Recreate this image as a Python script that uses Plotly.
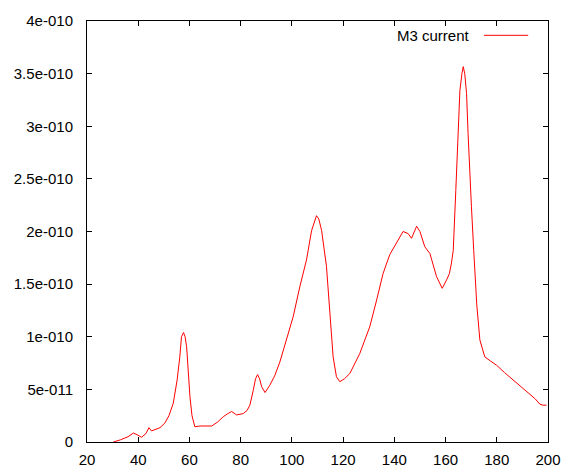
import plotly.graph_objects as go

# Data (x: arbitrary units, y: current in units of 1e-10 A)
x_vals = [30.3, 33, 36, 38.1, 39.5, 41.3, 43, 44.2, 45.2, 47, 48.5, 50.4, 52, 53.7, 55.2, 56.2, 56.9,
          57.7, 58.3, 58.9, 59.6, 60.2, 61, 62.1, 64.1, 66, 68.7, 71, 73.2, 75, 76.5, 78.4, 81,
          82.5, 83.6, 84.9, 85.8, 86.6, 87.4, 88.2, 89.5, 91.4, 93.3, 95.3, 97.9, 100.5, 103.1,
          105.7, 107.7, 108.8, 109.6, 110.5, 111.6, 113.5, 114.8, 116.1, 117.4, 118.7, 120.5,
          122.6, 126.5, 130.4, 133.1, 135.6, 138.2, 140.9, 143.4, 145.4, 146.7, 148.7, 150,
          151.9, 153.9, 156.5, 158.1, 158.7, 160.4, 161.5, 162.3, 163, 164, 164.9, 165.6, 166.4,
          166.9, 167.5, 168.2, 168.8, 169.5, 170.1, 171, 172.2, 173.4, 175.3, 177.5, 179.9,
          183, 186.4, 189.5, 192.9, 195, 196.8, 198, 199.4]
y_vals = [0.0, 0.02, 0.05, 0.085, 0.07, 0.045, 0.08, 0.136, 0.105, 0.125, 0.136, 0.18, 0.25, 0.37,
          0.59, 0.8, 1.0, 1.04, 1.0, 0.905, 0.65, 0.43, 0.25, 0.145, 0.152, 0.15, 0.152, 0.19,
          0.24, 0.27, 0.29, 0.257, 0.27, 0.3, 0.35, 0.49, 0.6, 0.64, 0.6, 0.525, 0.47, 0.54,
          0.63, 0.76, 0.97, 1.19, 1.476, 1.73, 2.01, 2.1, 2.15, 2.12, 2.01, 1.67, 1.19, 0.81,
          0.62, 0.573, 0.6, 0.65, 0.84, 1.095, 1.35, 1.60, 1.78, 1.89, 2.0, 1.98, 1.935, 2.05,
          2.0, 1.855, 1.79, 1.57, 1.48, 1.46, 1.54, 1.6, 1.7, 1.82, 2.39, 2.9, 3.34, 3.5,
          3.566, 3.5, 3.31, 2.93, 2.52, 2.24, 1.82, 1.3, 0.97, 0.81, 0.77, 0.73, 0.66, 0.59,
          0.52, 0.447, 0.41, 0.36, 0.35, 0.35]
y_scaled = [v * 1e-10 for v in y_vals]

x_ticks = [20, 40, 60, 80, 100, 120, 140, 160, 180, 200]
y_tickvals = [0, 0.5e-10, 1e-10, 1.5e-10, 2e-10, 2.5e-10, 3e-10, 3.5e-10, 4e-10]
y_ticktext = ["0", "5e-011", "1e-010", "1.5e-010", "2e-010", "2.5e-010", "3e-010", "3.5e-010", "4e-010"]
series_name = "M3 current"

fig = go.Figure()
fig.add_trace(go.Scatter(x=x_vals, y=y_scaled, mode="lines", name=series_name,
                         line=dict(color="#ff0000", width=1), showlegend=False))

axis_common = dict(showline=True, linecolor="black", linewidth=1, mirror="ticks",
                   ticks="inside", ticklen=5, tickcolor="black", showgrid=False,
                   zeroline=False, automargin=False,
                   tickfont=dict(family="Liberation Sans, Arial", size=15, color="black"))

fig.update_xaxes(range=[20, 200], tickvals=x_ticks, ticklabelstandoff=4, **axis_common)
fig.update_yaxes(range=[0, 4e-10], tickvals=y_tickvals, ticktext=y_ticktext,
                 ticklabelstandoff=10, **axis_common)

# legend key in gnuplot style (text, then line sample)
fig.add_annotation(x=0.835, y=0.966, xref="paper", yref="paper", text=series_name,
                   showarrow=False, xanchor="right", yanchor="middle",
                   font=dict(family="Liberation Sans, Arial", size=15, color="black"))
fig.add_shape(type="line", xref="paper", yref="paper", x0=0.861, x1=0.957, y0=0.966, y1=0.966,
              line=dict(color="#ff0000", width=1))

fig.update_layout(width=564, height=468, margin=dict(l=87, r=16, t=21, b=26),
                  plot_bgcolor="white", paper_bgcolor="white")

fig.write_html("out.html")
